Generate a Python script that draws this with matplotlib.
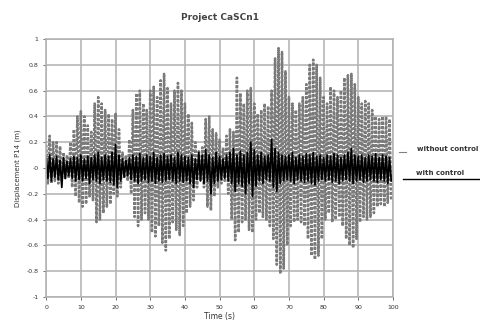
import numpy as np
import matplotlib
matplotlib.use("Agg")
import matplotlib.pyplot as plt
from matplotlib.lines import Line2D

# peak / trough values, one cycle per second
peak_times = np.arange(0, 100)
trough_times = peak_times + 0.5

without_peaks = [0.18, 0.25, 0.2, 0.2, 0.17, 0.12, 0.1, 0.2, 0.3, 0.4,
                 0.44, 0.4, 0.33, 0.28, 0.5, 0.55, 0.5, 0.45, 0.42, 0.38,
                 0.42, 0.3, 0.12, 0.1, 0.22, 0.45, 0.58, 0.6, 0.5, 0.45,
                 0.6, 0.63, 0.55, 0.68, 0.73, 0.62, 0.5, 0.6, 0.66, 0.6,
                 0.5, 0.42, 0.35, 0.2, 0.13, 0.16, 0.38, 0.4, 0.3, 0.27,
                 0.22, 0.15, 0.25, 0.3, 0.28, 0.7, 0.58, 0.5, 0.6, 0.62,
                 0.5, 0.42, 0.45, 0.5, 0.48, 0.6, 0.85, 0.93, 0.9, 0.75,
                 0.55, 0.5, 0.45, 0.5, 0.55, 0.65, 0.8, 0.84, 0.8, 0.7,
                 0.55, 0.5, 0.63, 0.6, 0.55, 0.6, 0.7, 0.72, 0.73, 0.65,
                 0.55, 0.5, 0.52, 0.5, 0.45, 0.4, 0.38, 0.4, 0.4, 0.38]
without_troughs = [-0.12, -0.12, -0.1, -0.12, -0.1, -0.08, -0.08, -0.15, -0.22, -0.27,
                   -0.3, -0.28, -0.22, -0.25, -0.42, -0.4, -0.35, -0.3, -0.28, -0.2,
                   -0.22, -0.15, -0.08, -0.1, -0.2, -0.38, -0.45, -0.4, -0.35, -0.4,
                   -0.5, -0.53, -0.45, -0.58, -0.64, -0.55, -0.42, -0.48, -0.52, -0.45,
                   -0.35, -0.3, -0.25, -0.15, -0.1, -0.15, -0.3, -0.33, -0.22, -0.15,
                   -0.12, -0.1, -0.2, -0.4, -0.56, -0.5, -0.42, -0.4, -0.48, -0.5,
                   -0.4, -0.35, -0.38, -0.4, -0.45, -0.55, -0.75, -0.82, -0.78, -0.6,
                   -0.45, -0.42, -0.4, -0.42, -0.45, -0.55, -0.68, -0.71, -0.68, -0.55,
                   -0.4, -0.35, -0.42, -0.4, -0.38, -0.45, -0.55, -0.6, -0.62, -0.55,
                   -0.42, -0.38, -0.4, -0.38, -0.35, -0.3, -0.28, -0.3, -0.27, -0.25]

with_peaks = [0.08, 0.1, 0.07, 0.09, 0.06, 0.08, 0.05, 0.07, 0.09, 0.08,
              0.1, 0.07, 0.09, 0.08, 0.1, 0.12, 0.08, 0.1, 0.09, 0.12,
              0.18, 0.1, 0.07, 0.06, 0.08, 0.1, 0.09, 0.11, 0.08, 0.1,
              0.09, 0.12, 0.08, 0.1, 0.11, 0.09, 0.1, 0.08, 0.12, 0.1,
              0.09, 0.08, 0.1, 0.07, 0.12, 0.1, 0.14, 0.1, 0.08, 0.12,
              0.09, 0.07, 0.1, 0.12, 0.15, 0.1, 0.13, 0.1, 0.12, 0.2,
              0.14, 0.1, 0.12, 0.09, 0.1, 0.22, 0.15, 0.12, 0.1, 0.09,
              0.1, 0.12, 0.08, 0.1, 0.09, 0.11, 0.1, 0.12, 0.09, 0.1,
              0.08, 0.1, 0.09, 0.11, 0.1, 0.08, 0.1, 0.12, 0.15, 0.1,
              0.09, 0.1, 0.08, 0.1, 0.09, 0.11, 0.08, 0.1, 0.09, 0.08]
with_troughs = [-0.08, -0.1, -0.07, -0.09, -0.15, -0.08, -0.06, -0.08, -0.1, -0.09,
                -0.1, -0.08, -0.12, -0.09, -0.1, -0.12, -0.09, -0.1, -0.11, -0.13,
                -0.15, -0.1, -0.07, -0.06, -0.09, -0.1, -0.12, -0.1, -0.09, -0.11,
                -0.1, -0.12, -0.1, -0.11, -0.1, -0.09, -0.1, -0.12, -0.1, -0.11,
                -0.1, -0.12, -0.15, -0.09, -0.1, -0.12, -0.1, -0.2, -0.12, -0.1,
                -0.09, -0.08, -0.1, -0.12, -0.18, -0.12, -0.14, -0.2, -0.12, -0.22,
                -0.14, -0.1, -0.12, -0.09, -0.1, -0.15, -0.18, -0.12, -0.1, -0.09,
                -0.1, -0.12, -0.09, -0.1, -0.11, -0.1, -0.12, -0.13, -0.1, -0.09,
                -0.1, -0.09, -0.11, -0.1, -0.12, -0.1, -0.09, -0.1, -0.12, -0.1,
                -0.09, -0.11, -0.1, -0.09, -0.1, -0.11, -0.09, -0.1, -0.12, -0.1]

x_ticks = np.arange(0, 101, 10)
y_ticks = np.round(np.arange(-1, 1.01, 0.2), 1)


def interleave(tops, bottoms):
    t = np.empty(2 * len(peak_times))
    v = np.empty(2 * len(peak_times))
    t[0::2] = peak_times
    t[1::2] = trough_times
    v[0::2] = tops
    v[1::2] = bottoms
    return t, v


t_wo, v_wo = interleave(without_peaks, without_troughs)
t_w, v_w = interleave(with_peaks, with_troughs)

fig = plt.figure(figsize=(4.81, 3.2), dpi=100)
ax = fig.add_axes([0.096, 0.072, 0.721, 0.806])

ax.plot(t_wo, v_wo, color="#7a7a7a", lw=1.8, ls=(0, (1.2, 0.6)))
ax.plot(t_w, v_w, color="black", lw=1.3)

ax.set_xlim(0, 100)
ax.set_ylim(-1, 1)
ax.set_xticks(x_ticks)
ax.set_yticks(y_ticks)
ax.set_yticklabels([f"{v:g}" for v in y_ticks])
ax.tick_params(labelsize=4.5, colors="#333333", length=2, width=0.5)
ax.grid(True, color="#b0b0b0", lw=1.1)
ax.set_axisbelow(True)
for s in ax.spines.values():
    s.set_color("#b0b0b0")
    s.set_linewidth(1.1)

ax.set_title("Project CaSCn1", fontsize=6.5, fontweight="bold", color="#444444", pad=14)
ax.set_xlabel("Time (s)", fontsize=5.5, color="#333333", labelpad=2)
ax.set_ylabel("Displacement P14 (m)", fontsize=5, color="#333333", labelpad=4)

# legend drawn outside the axes, text above its line sample
fig.text(0.995, 0.535, "without control", fontsize=5, fontweight="bold",
         color="#333333", ha="right", va="center")
fig.add_artist(Line2D([0.830, 0.845], [0.525, 0.525], color="#808080", lw=0.8,
                      transform=fig.transFigure))
fig.text(0.915, 0.46, "with control", fontsize=5, fontweight="bold",
         color="#333333", ha="center", va="center")
fig.add_artist(Line2D([0.838, 1.0], [0.44, 0.44], color="black", lw=1.0,
                      transform=fig.transFigure))

fig.savefig("out.png", dpi=100)
